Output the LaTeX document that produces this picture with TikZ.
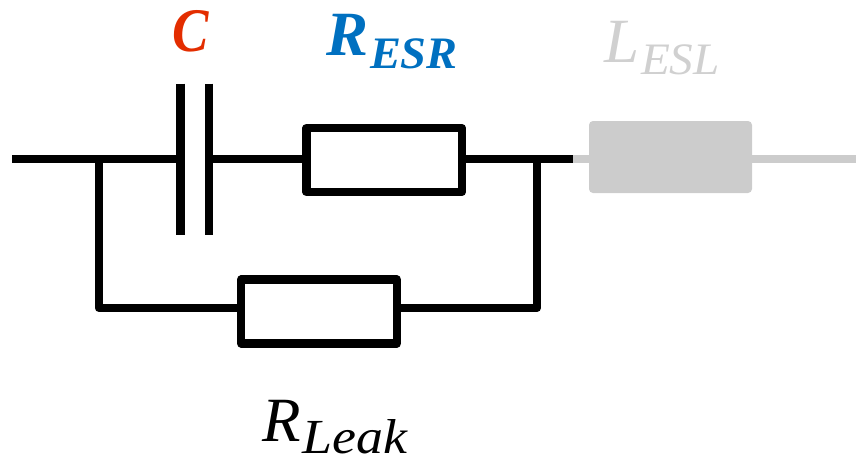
\documentclass[tikz,border=0pt]{standalone}
\usepackage{fontspec}
\usepackage{graphicx}
\setmainfont{Liberation Serif}
\definecolor{cred}{HTML}{E32D00}
\definecolor{cblue}{HTML}{0070C0}
\definecolor{cgray}{HTML}{CCCCCC}
\definecolor{lgray}{HTML}{D0D0D0}
\newcommand{\lbl}[6]{{\fontsize{#1}{#1}\selectfont\itshape #3}\kern2pt{\raisebox{#4}{\scalebox{#6}[1]{\fontsize{#2}{#2}\selectfont\itshape #5}}}}
\tikzset{
  wire/.style={line width=8.3pt,draw=black,line cap=butt},
  gwire/.style={line width=8.3pt,draw=cgray,line cap=butt},
  res/.style={draw=black,line width=8.3pt,fill=white,line join=round,minimum width=155.5pt,minimum height=64pt,inner sep=0pt,outer sep=0pt},
  gres/.style={fill=cgray,rounded corners=4pt,minimum width=163pt,minimum height=72pt,inner sep=0pt,outer sep=0pt},
  lab/.style={anchor=base west,inner sep=0pt,outer sep=0pt}
}
\begin{document}
\begin{tikzpicture}[x=1pt,y=-1pt]
\useasboundingbox (0,0) rectangle (856,459);
\coordinate (inL) at (12,159);
\coordinate (jl) at (99,159);
\coordinate (jr) at (537,159);
\coordinate (bl) at (99,308);
\coordinate (br) at (537,308);
\coordinate (g1) at (573,159);
\coordinate (outR) at (856,159);
\coordinate (c1t) at (180.5,83.5);
\coordinate (c1b) at (180.5,235);
\coordinate (c2t) at (209,83.5);
\coordinate (c2b) at (209,235);
\coordinate (c1m) at (180.5,159);
\coordinate (c2m) at (209,159);
% grey branch
\node[gres] (lesl) at (670.5,157) {};
\draw[gwire] (g1) -- (g1 -| lesl.west);
\draw[gwire] (outR -| lesl.east) -- (outR);
% main wires
\node[res] (resr) at (384.25,160) {};
\node[res] (rleak) at (319,311.5) {};
\draw[wire] (inL) -- (c1m);
\draw[wire] (c2m) -- (c2m -| resr.west);
\draw[wire] (g1 -| resr.east) -- (g1);
\draw[wire,line join=round] (jl) -- (bl) -- (bl -| rleak.west);
\draw[wire,line join=round] (jr) -- (br) -- (br -| rleak.east);
\draw[wire] (c1t) -- (c1b);
\draw[wire] (c2t) -- (c2b);
% labels
\node[lab,text=cred] (lc) at (172,51.5) {\scalebox{.88}[1]{\fontsize{62}{62}\selectfont\bfseries\itshape C}};
\node[lab,text=cblue] (lr) at (326,55.5) {\bfseries\lbl{63}{45}{R}{-12.5pt}{ESR}{1.03}};
\node[lab,text=lgray] (ll) at (604,62) {\lbl{63}{45}{L}{-12pt}{ESL}{1.05}};
\node[lab,text=black] (lk) at (262,441.5) {\lbl{63}{49}{R}{-12pt}{Leak}{1.1}};
\end{tikzpicture}
\end{document}
